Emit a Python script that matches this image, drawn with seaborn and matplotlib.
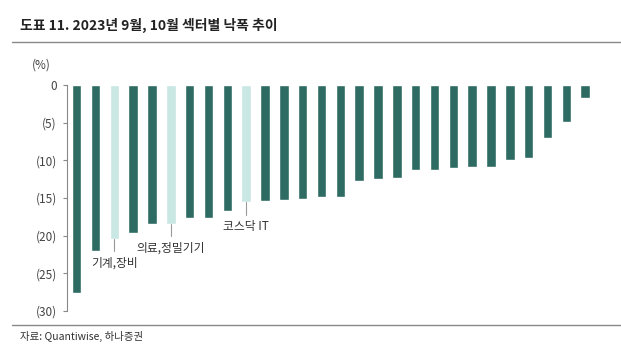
import numpy as np
import pandas as pd
import matplotlib
matplotlib.use("Agg")
import matplotlib.pyplot as plt
import seaborn as sns

# --- data: sector drawdown, Sep-Oct 2023 (%) ---
drawdown = [-27.6, -22.1, -20.4, -19.6, -18.5, -18.4, -17.7, -17.6, -16.7, -15.5,
            -15.4, -15.2, -15.1, -14.9, -14.9, -12.7, -12.5, -12.4, -11.3, -11.3,
            -11.0, -10.9, -10.9, -10.0, -9.7, -7.1, -4.9, -1.7]
labels = [""] * len(drawdown)
labels[2] = "기계,장비"
labels[5] = "의료,정밀기기"
labels[9] = "코스닥 IT"
highlight = [lab != "" for lab in labels]
yticks = [0, -5, -10, -15, -20, -25, -30]
yticklabels = ["0", "(5)", "(10)", "(15)", "(20)", "(25)", "(30)"]

DARK = "#2e6b62"
LIGHT = "#c9e7e3"

sns.set_theme(style="white")
plt.rcParams['font.family'] = ['Noto Sans CJK KR', 'DejaVu Sans']

df = pd.DataFrame({
    "idx": np.arange(len(drawdown)),
    "val": drawdown,
    "kind": ["hi" if h else "base" for h in highlight],
})

fig = plt.figure(figsize=(6.21, 3.51), dpi=100)
ax = fig.add_axes([0.1074, 0.114, 0.86, 0.6438])

sns.barplot(data=df, x="idx", y="val", hue="kind", palette={"hi": LIGHT, "base": DARK},
            width=0.5, dodge=False, legend=False, saturation=1, ax=ax)

ax.set_ylim(-30, 0)
ax.set_xlim(-0.53, 27.83)
ax.set_yticks(yticks)
ax.set_yticklabels(yticklabels)
ax.set_xticks([])
ax.set_xlabel("")
ax.set_ylabel("")
for s in ["top", "right", "bottom"]:
    ax.spines[s].set_visible(False)
ax.spines["left"].set_color("#888888")
ax.spines["left"].set_linewidth(0.8)
ax.tick_params(axis="y", direction="out", length=3, width=0.8, color="#888888",
               labelsize=8.5, labelcolor="#444444", pad=4, left=True)

# callouts for highlighted sectors
for i, (v, lab) in enumerate(zip(drawdown, labels)):
    if not lab:
        continue
    ax.plot([i, i], [v, v - 1.7], color="#999999", lw=0.8)
    ax.text(i, v - 3.3, lab, ha="center", va="center", fontsize=8.5, color="#333333")

ax.text(-0.029, 1.09, "(%)", transform=ax.transAxes, ha="right", va="center",
        fontsize=8.5, color="#444444")

# title, rules and source
fig.text(0.032, 0.926, "도표 11. 2023년 9월, 10월 섹터별 낙폭 추이", ha="left", va="center",
         fontsize=10, fontweight="bold", color="#222222")
fig.add_artist(plt.Line2D([0.02, 1.0], [0.88, 0.88], color="#888888", lw=1.0,
                          transform=fig.transFigure))
fig.add_artist(plt.Line2D([0.02, 1.0], [0.074, 0.074], color="#888888", lw=1.0,
                          transform=fig.transFigure))
fig.text(0.032, 0.04, "자료: Quantiwise, 하나증권", ha="left", va="center",
         fontsize=7.5, color="#333333")

fig.savefig("out.png", dpi=100)
